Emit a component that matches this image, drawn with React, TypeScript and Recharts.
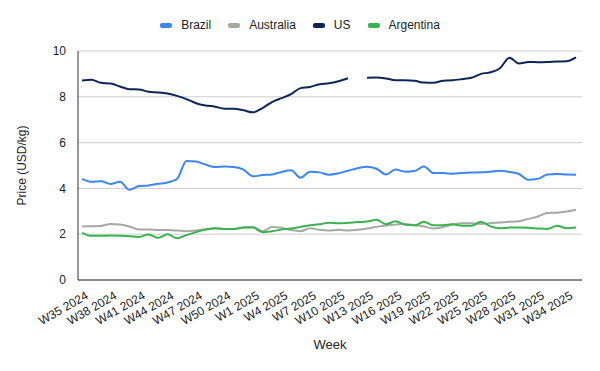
import { LineChart, Line, XAxis, YAxis, CartesianGrid } from "recharts";

const weeks = [
    "W35 2024", "W36 2024", "W37 2024", "W38 2024", "W39 2024", "W40 2024",
    "W41 2024", "W42 2024", "W43 2024", "W44 2024", "W45 2024", "W46 2024",
    "W47 2024", "W48 2024", "W49 2024", "W50 2024", "W51 2024", "W52 2024",
    "W1 2025", "W2 2025", "W3 2025", "W4 2025", "W5 2025", "W6 2025",
    "W7 2025", "W8 2025", "W9 2025", "W10 2025", "W11 2025", "W12 2025",
    "W13 2025", "W14 2025", "W15 2025", "W16 2025", "W17 2025", "W18 2025",
    "W19 2025", "W20 2025", "W21 2025", "W22 2025", "W23 2025", "W24 2025",
    "W25 2025", "W26 2025", "W27 2025", "W28 2025", "W29 2025", "W30 2025",
    "W31 2025", "W32 2025", "W33 2025", "W34 2025", "W35 2025",
];

const brazil = [
    4.42, 4.29, 4.31, 4.19, 4.29, 3.94, 4.1, 4.13, 4.2, 4.26, 4.41, 5.2, 5.17,
    5.04, 4.93, 4.96, 4.93, 4.82, 4.53, 4.58, 4.61, 4.72, 4.79, 4.47, 4.73, 4.7,
    4.6, 4.66, 4.77, 4.88, 4.95, 4.86, 4.61, 4.82, 4.73, 4.76, 4.96, 4.67, 4.67,
    4.64, 4.67, 4.69, 4.7, 4.73, 4.77, 4.72, 4.63, 4.38, 4.42, 4.61, 4.63, 4.61,
    4.6,
];

const australia = [
    2.34, 2.35, 2.36, 2.44, 2.42, 2.34, 2.2, 2.2, 2.18, 2.18, 2.16, 2.13, 2.16,
    2.22, 2.25, 2.23, 2.23, 2.29, 2.31, 2.13, 2.31, 2.28, 2.18, 2.13, 2.26, 2.19,
    2.16, 2.19, 2.16, 2.19, 2.25, 2.32, 2.38, 2.42, 2.44, 2.39, 2.34, 2.25, 2.31,
    2.42, 2.48, 2.48, 2.45, 2.48, 2.51, 2.54, 2.57, 2.67, 2.77, 2.93, 2.94, 2.99,
    3.07,
];

// W12 2025 has no US price, so the line breaks there
const us = [
    8.71, 8.74, 8.61, 8.58, 8.45, 8.33, 8.32, 8.22, 8.19, 8.14, 8.04, 7.9, 7.72,
    7.62, 7.57, 7.48, 7.48, 7.41, 7.32, 7.51, 7.77, 7.94, 8.12, 8.38, 8.43, 8.55,
    8.59, 8.68, 8.81, null, 8.83, 8.84, 8.8, 8.72, 8.72, 8.7, 8.62, 8.61, 8.7,
    8.72, 8.77, 8.83, 9.0, 9.07, 9.25, 9.71, 9.45, 9.52, 9.51, 9.52, 9.54, 9.55,
    9.72,
];

const argentina = [
    2.06, 1.93, 1.93, 1.94, 1.93, 1.91, 1.88, 1.99, 1.84, 2.0, 1.82, 1.96, 2.09,
    2.2, 2.26, 2.23, 2.23, 2.29, 2.29, 2.09, 2.13, 2.2, 2.25, 2.32, 2.39, 2.43,
    2.5, 2.48, 2.5, 2.53, 2.55, 2.63, 2.43, 2.57, 2.41, 2.39, 2.54, 2.39, 2.39,
    2.43, 2.37, 2.37, 2.54, 2.34, 2.26, 2.29, 2.29, 2.28, 2.25, 2.23, 2.37, 2.26,
    2.29,
];

const yTicks = [0, 2, 4, 6, 8, 10];

const series = [
    { key: "brazil", name: "Brazil", color: "#3d85f0" },
    { key: "australia", name: "Australia", color: "#a3aba0" },
    { key: "us", name: "US", color: "#0d2458" },
    { key: "argentina", name: "Argentina", color: "#3cb150" },
];

const data = weeks.map((week, i) => ({
    week,
    brazil: brazil[i],
    australia: australia[i],
    us: us[i],
    argentina: argentina[i],
}));

const FONT = "'Liberation Sans', Arial, sans-serif";

function WeekTick(props: any) {
    const { x, y, payload } = props;
    const ax = x + 7;
    const ay = y + 10;
    return (
        <text
            x={ax}
            y={ay}
            textAnchor="end"
            fontSize={12}
            fontFamily={FONT}
            fill="#222"
            transform={`rotate(-30, ${ax}, ${ay})`}
        >
            {payload.value}
        </text>
    );
}

export default function App() {
    return (
        <div style={{ position: "absolute", left: 0, top: 0, width: 600, height: 371, background: "#fff" }}>
            {/* legend drawn as html so it does not push the plot down */}
            <div
                style={{
                    position: "absolute",
                    top: 17,
                    left: 0,
                    width: 600,
                    display: "flex",
                    justifyContent: "center",
                    gap: 17,
                    fontFamily: FONT,
                    fontSize: 12,
                    color: "#222",
                    lineHeight: "16px",
                }}
            >
                {series.map((s) => (
                    <div key={s.key} style={{ display: "flex", alignItems: "center" }}>
                        <span
                            style={{
                                display: "inline-block",
                                width: 12,
                                height: 5,
                                borderRadius: 2,
                                background: s.color,
                                marginRight: 9,
                            }}
                        />
                        {s.name}
                    </div>
                ))}
            </div>
            <LineChart width={600} height={371} data={data} margin={{ top: 51, right: 18, bottom: 16, left: 0 }}>
                <CartesianGrid vertical={false} stroke="#cccccc" />
                <XAxis
                    dataKey="week"
                    interval={2}
                    tick={<WeekTick />}
                    tickLine={false}
                    axisLine={{ stroke: "#333" }}
                    height={75}
                    padding={{ left: 4, right: 6 }}
                    label={{
                        value: "Week",
                        position: "insideBottom",
                        offset: 6,
                        fontSize: 13,
                        fontFamily: FONT,
                        fill: "#222",
                    }}
                />
                <YAxis
                    domain={[0, 10]}
                    ticks={yTicks}
                    width={78}
                    tickLine={false}
                    axisLine={{ stroke: "#333" }}
                    tickMargin={6}
                    tick={{ fontSize: 12, fontFamily: FONT, fill: "#222" }}
                    label={{
                        value: "Price (USD/kg)",
                        angle: -90,
                        position: "insideLeft",
                        offset: 22,
                        fontSize: 12,
                        fontFamily: FONT,
                        fill: "#222",
                        style: { textAnchor: "middle" },
                    }}
                />
                {series.map((s) => (
                    <Line
                        key={s.key}
                        type="monotone"
                        dataKey={s.key}
                        name={s.name}
                        stroke={s.color}
                        strokeWidth={2}
                        dot={false}
                        isAnimationActive={false}
                    />
                ))}
            </LineChart>
        </div>
    );
}
